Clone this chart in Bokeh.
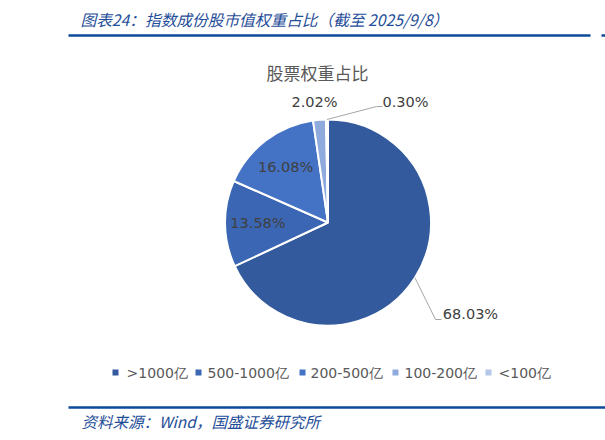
import math
from bokeh.plotting import figure
from bokeh.models import Range1d, ColumnDataSource
from bokeh.core.properties import value
from bokeh.embed import file_html
from bokeh.resources import INLINE

# ---------------- data ----------------
categories = [">1000亿", "500-1000亿", "200-500亿", "100-200亿", "<100亿"]
weights = [68.03, 13.58, 16.08, 2.02, 0.30]
colors = ["#335A9C", "#3B66B3", "#4472C4", "#8FAADC", "#B4C7E7"]

title_text = "图表24：指数成份股市值权重占比（截至 2025/9/8）"
chart_title = "股票权重占比"
source_text = "资料来源：Wind，国盛证券研究所"

# ---------------- layout ----------------
W, H = 605, 440
def Y(y):  # reference pixel row -> data y
    return H - y

cx, cy, R = 327.5, Y(222), 103
inside_r = 0.68
# outside labels: index -> (label x, label y, elbow x, elbow y, end x)
outside = {
    0: (470, 313, 435, 319, 441),
    3: (314, 101, None, None, None),
    4: (405, 101, 376, 106, 382),
}
num_font = value("DejaVu Sans")

p = figure(width=W, height=H, x_range=Range1d(0, W), y_range=Range1d(0, H),
           output_backend="svg", toolbar_location=None, min_border=0)
p.axis.visible = False
p.grid.visible = False
p.outline_line_color = None
p.background_fill_color = "white"

# header
p.text(x=[80], y=[Y(19)], text=[title_text], text_font=value("Noto Sans CJK SC"),
       text_font_size="15.7px", text_font_style="italic", text_color="#1F4E99",
       text_align="left", text_baseline="middle")
p.segment(x0=[68], y0=[Y(35)], x1=[590], y1=[Y(35)], line_color="#0B4A9B", line_width=2.5)
p.segment(x0=[601], y0=[Y(35)], x1=[606], y1=[Y(35)], line_color="#0B4A9B", line_width=2.5)

# chart title
p.text(x=[317], y=[Y(72)], text=[chart_title], text_font=value("Noto Sans CJK SC"),
       text_font_size="17px", text_color="#595959", text_align="center", text_baseline="middle")

# pie
total = sum(weights)
starts, ends, mids = [], [], []
cum = 0.0
for w in weights:
    a0 = math.pi / 2 - cum / total * 2 * math.pi
    cum += w
    a1 = math.pi / 2 - cum / total * 2 * math.pi
    starts.append(a0); ends.append(a1); mids.append((a0 + a1) / 2)

src = ColumnDataSource(dict(start=starts, end=ends, color=colors))
p.wedge(x=cx, y=cy, radius=R, radius_units="screen", start_angle="start", end_angle="end",
        direction="clock", fill_color="color", line_color="white", line_width=2, source=src)

labels = ["%.2f%%" % w for w in weights]
lx, ly = [], []
for i in (1, 2):
    lx.append(cx + inside_r * R * math.cos(mids[i]))
    ly.append(cy + inside_r * R * math.sin(mids[i]))
p.text(x=lx, y=ly, text=[labels[1], labels[2]], text_font=num_font,
       text_font_size="14.5px", text_color="#404040", text_align="center", text_baseline="middle")

for i, (tx, ty, ex, ey, endx) in outside.items():
    if ex is not None:
        sx = cx + R * math.cos(mids[i])
        sy = cy + R * math.sin(mids[i])
        p.line(x=[sx, ex, endx], y=[sy, Y(ey), Y(ey)], line_color="#A6A6A6", line_width=1)
    p.text(x=[tx], y=[Y(ty)], text=[labels[i]], text_font=num_font,
           text_font_size="14.5px", text_color="#404040", text_align="center", text_baseline="middle")

# legend
leg_sq_x = [115, 198, 302, 395, 488]
leg_tx = [126, 207, 310, 404, 498]
p.scatter(x=leg_sq_x, y=[Y(372)] * 5, marker="square", size=6, fill_color=colors, line_color=None)
p.text(x=leg_tx, y=[Y(372)] * 5, text=categories, text_font=num_font,
       text_font_size="14px", text_color="#595959", text_align="left", text_baseline="middle")

# footer
p.segment(x0=[68], y0=[Y(407)], x1=[606], y1=[Y(407)], line_color="#0B4A9B", line_width=2.5)
p.text(x=[81], y=[Y(420)], text=[source_text], text_font=value("Noto Sans CJK SC"),
       text_font_size="15.5px", text_font_style="italic", text_color="#1F4E99",
       text_align="left", text_baseline="middle")

open("out.html", "w").write(file_html(p, INLINE))
